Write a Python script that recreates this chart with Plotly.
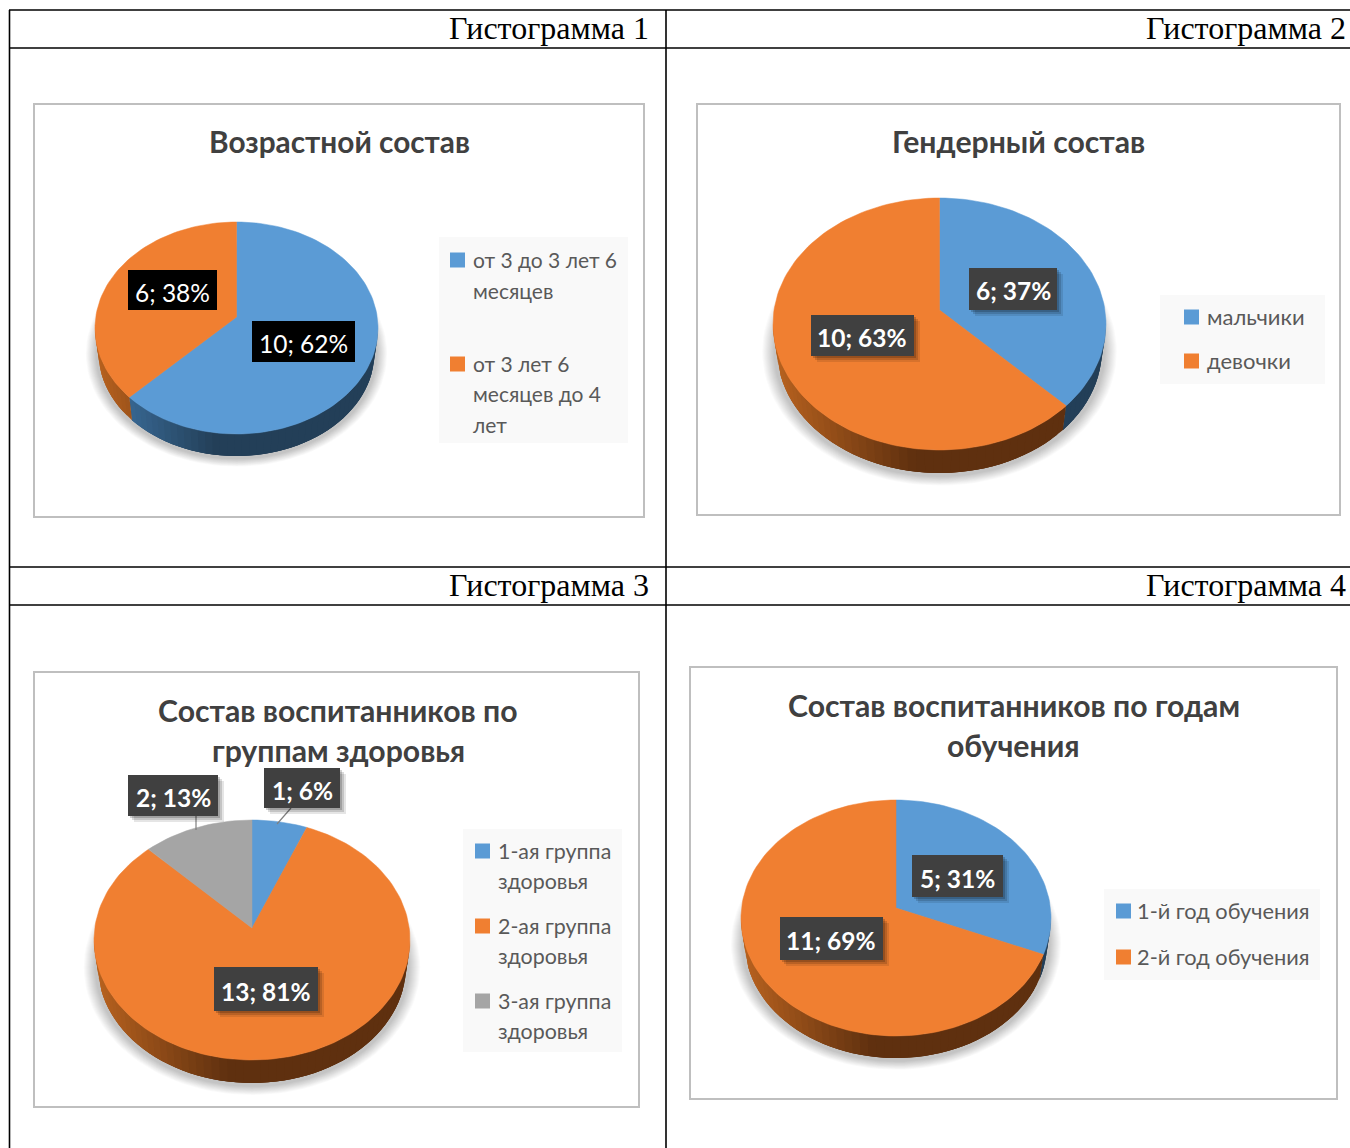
import math
import plotly.graph_objects as go

W, H = 1350, 1148

# ---------- data ----------
table_headers = ["Гистограмма 1", "Гистограмма 2", "Гистограмма 3", "Гистограмма 4"]

age_title = "Возрастной состав"
age_values = [10, 6]
age_labels = ["10; 62%", "6; 38%"]
age_names = ["от 3 до 3 лет 6<br>месяцев", "от 3 лет 6<br>месяцев до 4<br>лет"]

gender_title = "Гендерный состав"
gender_values = [6, 10]
gender_labels = ["6; 37%", "10; 63%"]
gender_names = ["мальчики", "девочки"]

health_title = "Состав воспитанников по<br>группам здоровья"
health_values = [1, 13, 2]
health_labels = ["1; 6%", "13; 81%", "2; 13%"]
health_names = ["1-ая группа<br>здоровья", "2-ая группа<br>здоровья", "3-ая группа<br>здоровья"]

year_title = "Состав воспитанников по годам<br>обучения"
year_values = [5, 11]
year_labels = ["5; 31%", "11; 69%"]
year_names = ["1-й год обучения", "2-й год обучения"]

# ---------- style ----------
FACE = ["#5B9BD5", "#F07F31", "#A5A5A5"]
WALL_LIGHT = ["#3F75A6", "#B8621F", "#7a7a7a"]
WALL_DARK = ["#233F58", "#5F300F", "#555555"]
FONT = "Lato, 'Noto Sans', sans-serif"
SERIF = "'Liberation Serif', serif"

charts = [
    dict(title=age_title, values=age_values, labels=age_labels, names=age_names,
         frame=(34, 104, 644, 517), c=(236.5, 328), r=(141.5, 106), apex=317, depth=22,
         title_y=141, title_x=339, title_fs=29.8,
         label_boxes=[(252, 321, 355, 362), (128, 270, 217, 310)], label_bg="#000000",
         label_bold=False, shadowed=False,
         legend_box=(439, 237, 628, 443), legend_x=450, legend_tx=472,
         legend_first=[259.5, 363.5], line_h=30.5, fs=21),
    dict(title=gender_title, values=gender_values, labels=gender_labels, names=gender_names,
         frame=(697, 104, 1340, 515), c=(939.5, 324), r=(166.5, 126), apex=310, depth=23,
         title_y=141, title_x=1018, title_fs=30.2,
         label_boxes=[(969, 268, 1057, 310), (811, 315, 914, 356)], label_bg="#404040",
         label_bold=True, shadowed=True,
         legend_box=(1160, 295, 1325, 384), legend_x=1184, legend_tx=1206,
         legend_first=[316.5, 360.5], line_h=30.5, fs=22),
    dict(title=health_title, values=health_values, labels=health_labels, names=health_names,
         frame=(34, 672, 639, 1107), c=(252, 940), r=(158, 120), apex=928, depth=23,
         title_y=710, title_x=338, title_fs=30.2,
         label_boxes=[(264, 768, 340, 808), (214, 967, 318, 1011), (128, 775, 218, 816)],
         label_bg="#404040", label_bold=True, shadowed=True,
         leaders=[((277, 824), (291, 808)), ((196, 830), (196, 816))],
         legend_box=(463, 829, 622, 1052), legend_x=475, legend_tx=497,
         legend_first=[850.5, 925.5, 1000.5], line_h=30.5, fs=21.4),
    dict(title=year_title, values=year_values, labels=year_labels, names=year_names,
         frame=(690, 667, 1337, 1099), c=(896, 918), r=(155, 118), apex=908, depth=22,
         title_y=705, title_x=1014, title_fs=30.2,
         label_boxes=[(912, 855, 1003, 897), (780, 917, 883, 960)], label_bg="#404040",
         label_bold=True, shadowed=True,
         legend_box=(1104, 889, 1320, 980), legend_x=1116, legend_tx=1136,
         legend_first=[910.5, 956.5], line_h=30.5, fs=21.8),
]

fig = go.Figure()
shapes, annotations = [], []


def px(x):
    return x / W


def py(y):
    return 1 - y / H


def rect(x0, y0, x1, y1, fill=None, line=None, lw=0, layer="below"):
    shapes.append(dict(type="rect", xref="paper", yref="paper",
                       x0=px(x0), x1=px(x1), y0=py(y0), y1=py(y1),
                       fillcolor=fill or "rgba(0,0,0,0)",
                       line=dict(color=line or "rgba(0,0,0,0)", width=lw), layer=layer))


def seg(x0, y0, x1, y1, color="#000000", lw=1.6, layer="below"):
    shapes.append(dict(type="line", xref="paper", yref="paper",
                       x0=px(x0), x1=px(x1), y0=py(y0), y1=py(y1),
                       line=dict(color=color, width=lw), layer=layer))


def text(x, y, s, size, color, family=FONT, xanchor="left", bold=False, align="left"):
    annotations.append(dict(xref="paper", yref="paper", x=px(x), y=py(y),
                            text=f"<b>{s}</b>" if bold else s, showarrow=False,
                            xanchor=xanchor, yanchor="middle", align=align,
                            font=dict(size=size, color=color, family=family),
                            borderpad=0))


def hex2rgb(h):
    return [int(h[i:i + 2], 16) for i in (1, 3, 5)]


def mix(a, b, t):
    ca, cb = hex2rgb(a), hex2rgb(b)
    return "rgb(%d,%d,%d)" % tuple(round(ca[i] + (cb[i] - ca[i]) * t) for i in range(3))


def rim_angle(theta, a):
    """Rim position hit by a ray leaving the off-centre apex (0, a) at clockwise angle theta."""
    s, c = math.sin(theta), math.cos(theta)
    b = a * c
    t = -b + math.sqrt(b * b + 1 - a * a)
    return math.atan2(t * s, a + t * c) % (2 * math.pi)


# ---------- page furniture ----------
seg(9, 10, W, 10)
seg(9, 48, W, 48)
seg(9, 567, W, 567)
seg(9, 605, W, 605)
seg(9.5, 10, 9.5, H)
seg(666, 10, 666, H)
text(650, 28, table_headers[0], 32, "#000000", SERIF, "right")
text(1347, 28, table_headers[1], 32, "#000000", SERIF, "right")
text(650, 585, table_headers[2], 32, "#000000", SERIF, "right")
text(1347, 585, table_headers[3], 32, "#000000", SERIF, "right")

# ---------- charts ----------
for n, ch in enumerate(charts, start=1):
    fx0, fy0, fx1, fy1 = ch["frame"]
    cx, cy = ch["c"]
    rx, ry = ch["r"]
    rect(fx0, fy0, fx1, fy1, "#ffffff", "#BFBFBF", 2)

    xname, yname = ("xaxis", "yaxis") if n == 1 else (f"xaxis{n}", f"yaxis{n}")
    xa, ya = ("x", "y") if n == 1 else (f"x{n}", f"y{n}")
    fig.update_layout({
        xname: dict(domain=[px(fx0), px(fx1)], range=[(fx0 - cx) / rx, (fx1 - cx) / rx],
                    visible=False, fixedrange=True, anchor=ya),
        yname: dict(domain=[py(fy1), py(fy0)], range=[(cy - fy1) / ry, (cy - fy0) / ry],
                    visible=False, fixedrange=True, anchor=xa),
    })

    def poly(xs, ys, color, line=0.0):
        fig.add_trace(go.Scatter(x=xs, y=ys, xaxis=xa, yaxis=ya, mode="lines", fill="toself",
                                 fillcolor=color, hoverinfo="skip", showlegend=False,
                                 line=dict(width=line, color=color)))

    a = (cy - ch["apex"]) / ry
    d = ch["depth"] / ry
    k = 0.975
    bottom_c = -1 - d + k

    # soft shadow
    steps = 12
    for i in range(steps):
        f = 1.065 - 0.07 * i / (steps - 1)
        ang = [2 * math.pi * j / 120 for j in range(121)]
        poly([f * math.sin(p) for p in ang],
             [bottom_c - 0.01 + f * math.cos(p) for p in ang], "rgba(0,0,0,0.018)")

    total = sum(ch["values"])
    cum = 0.0
    arcs = []
    for v in ch["values"]:
        t0 = 2 * math.pi * cum / total
        cum += v
        t1 = 2 * math.pi * cum / total
        p0 = rim_angle(t0, a) if cum - v > 0 else 0.0
        p1 = rim_angle(t1, a) if cum < total else 2 * math.pi
        arcs.append((p0, p1))

    # side wall in overlapping strips, shaded from left to centre
    for i, (p0, p1) in enumerate(arcs):
        lo, hi = max(p0, math.pi / 2), min(p1, 3 * math.pi / 2)
        if hi <= lo:
            continue
        strips = max(2, int((hi - lo) / (math.pi / 60)))
        dq = (hi - lo) / strips
        for j in range(strips):
            q0 = lo + dq * j
            q1 = min(hi, q0 + 3 * dq)
            mid = q0 + dq / 2
            t = min(1.0, max(0.0, (math.sin(mid) + 1) / 0.85))
            col = mix(WALL_LIGHT[i], WALL_DARK[i], t)
            qs = [q0 + (q1 - q0) * m / 3 for m in range(4)]
            xs = [math.sin(q) for q in qs] + [k * math.sin(q) for q in reversed(qs)]
            ys = [math.cos(q) for q in qs] + [bottom_c + k * math.cos(q) for q in reversed(qs)]
            poly(xs, ys, col)

    # top face
    for i, (p0, p1) in enumerate(arcs):
        m = max(4, int((p1 - p0) / (math.pi / 90)))
        ang = [p0 + (p1 - p0) * j / m for j in range(m + 1)]
        poly([0] + [math.sin(p) for p in ang] + [0],
             [a] + [math.cos(p) for p in ang] + [a], FACE[i], 0.5)

    # title
    for li, s in enumerate(ch["title"].split("<br>")):
        text(ch["title_x"], ch["title_y"] + li * 40, s, ch["title_fs"], "#404040", FONT, "center", True, "center")

    # leader lines
    for (p, q) in ch.get("leaders", []):
        seg(p[0], p[1], q[0], q[1], "#7F7F7F", 1.2, "above")

    # data labels
    for s, (bx0, by0, bx1, by1) in zip(ch["labels"], ch["label_boxes"]):
        if ch["shadowed"]:
            for off, al in ((6, 0.10), (4, 0.14), (2, 0.18)):
                rect(bx0 + off, by0 + off, bx1 + off, by1 + off, f"rgba(0,0,0,{al})", layer="above")
        rect(bx0, by0, bx1, by1, ch["label_bg"], layer="above")
        text((bx0 + bx1) / 2, (by0 + by1) / 2 + 2, s, 24.5, "#FFFFFF", FONT, "center", ch["label_bold"], "center")

    # legend
    lx0, ly0, lx1, ly1 = ch["legend_box"]
    rect(lx0, ly0, lx1, ly1, "#F9F9F9")
    for i, (nm, y0) in enumerate(zip(ch["names"], ch["legend_first"])):
        rect(ch["legend_x"], y0 - 7, ch["legend_x"] + 15, y0 + 8, FACE[i], layer="above")
        for li, s in enumerate(nm.split("<br>")):
            text(ch["legend_tx"], y0 + li * ch["line_h"], s, ch["fs"], "#595959")

fig.update_layout(width=W, height=H, margin=dict(l=0, r=0, t=0, b=0, pad=0),
                  paper_bgcolor="#ffffff", plot_bgcolor="rgba(0,0,0,0)",
                  showlegend=False, shapes=shapes, annotations=annotations)

fig.write_html("out.html", config=dict(displayModeBar=False, staticPlot=True),
               post_script="document.body.style.margin='0';document.body.style.overflow='hidden';")
